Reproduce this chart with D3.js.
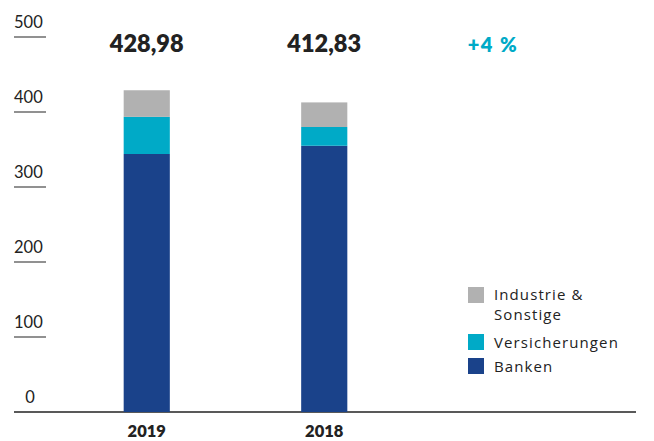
<!DOCTYPE html>
<html><head><meta charset="utf-8">
<script src="https://cdn.jsdelivr.net/npm/d3@7/dist/d3.min.js"></script>
<style>body{margin:0;background:#fff}svg{display:block}text{font-family:Lato,"Open Sans",sans-serif}</style>
</head><body>
<svg id="c" width="654" height="441"></svg>
<script>
const years = ["2019", "2018"];
const totalLabels = ["428,98", "412,83"];
const banken = [344, 355];
const versicherungen = [49.5, 25];
const industrie = [35.5, 32.8];
const seriesNames = ["Banken", "Versicherungen", "Industrie & Sonstige"];
const seriesColors = ["#1a428a", "#00aac7", "#b1b1b1"];
const yTicks = [0, 100, 200, 300, 400, 500];
const changeLabel = "+4 %";

const svg = d3.select("#c");
const y = d3.scaleLinear().domain([0, 500]).range([412, 37]);
const x = d3.scaleBand().domain(years).range([58, 413]).paddingInner(0.74).paddingOuter(0.37);

const tg = svg.append("g");
yTicks.forEach(t => {
  if (t > 0) tg.append("line").attr("x1", 14).attr("x2", 46).attr("y1", y(t)).attr("y2", y(t)).attr("stroke", "#555").attr("stroke-width", 1.3);
  tg.append("text").attr("x", t === 0 ? 30 : 14).attr("y", y(t) - 9).attr("text-anchor", t === 0 ? "middle" : "start")
    .attr("font-size", 16.5).attr("fill", "#222").text(t);
});
svg.append("line").attr("x1", 14).attr("x2", 636).attr("y1", y(0)).attr("y2", y(0)).attr("stroke", "#222").attr("stroke-width", 1.3);

const rows = years.map((yr, i) => ({year: yr, Banken: banken[i], Versicherungen: versicherungen[i], "Industrie & Sonstige": industrie[i]}));
const stack = d3.stack().keys(seriesNames)(rows);
svg.append("g").selectAll("g").data(stack).join("g").attr("fill", (d, i) => seriesColors[i])
  .selectAll("rect").data(d => d).join("rect")
  .attr("x", d => x(d.data.year)).attr("width", x.bandwidth())
  .attr("y", d => y(d[1])).attr("height", d => y(d[0]) - y(d[1]));

svg.append("g").selectAll("text").data(years).join("text")
  .attr("x", d => x(d) + x.bandwidth() / 2).attr("y", 52).attr("text-anchor", "middle")
  .attr("font-size", 23.5).attr("font-weight", 800).attr("fill", "#222").text((d, i) => totalLabels[i]);
svg.append("text").attr("x", 493).attr("y", 52).attr("text-anchor", "middle").attr("font-size", 20)
  .attr("font-weight", 800).attr("fill", "#00aac7").attr("letter-spacing", 1.5).text(changeLabel);

svg.append("g").selectAll("text").data(years).join("text")
  .attr("x", d => x(d) + x.bandwidth() / 2).attr("y", 437).attr("text-anchor", "middle")
  .attr("font-size", 16.5).attr("font-weight", 800).attr("fill", "#222").text(d => d);

const legendItems = [
  {name: seriesNames[2], color: seriesColors[2], lines: ["Industrie &", "Sonstige"], y: 287},
  {name: seriesNames[1], color: seriesColors[1], lines: ["Versicherungen"], y: 334},
  {name: seriesNames[0], color: seriesColors[0], lines: ["Banken"], y: 358}
];
const lg = svg.append("g");
legendItems.forEach(it => {
  lg.append("rect").attr("x", 468).attr("y", it.y).attr("width", 16).attr("height", 16).attr("fill", it.color);
  const multi = it.lines.length > 1;
  const t = lg.append("text").attr("x", 494).attr("y", it.y + (multi ? 12.5 : 13.5))
    .attr("font-size", 15).attr("letter-spacing", 1.1).attr("fill", "#222").style("font-family", "'Open Sans', sans-serif");
  it.lines.forEach((l, j) => t.append("tspan").attr("x", 494).attr("dy", j === 0 ? 0 : 20.5).text(l));
});
</script>
</body></html>
